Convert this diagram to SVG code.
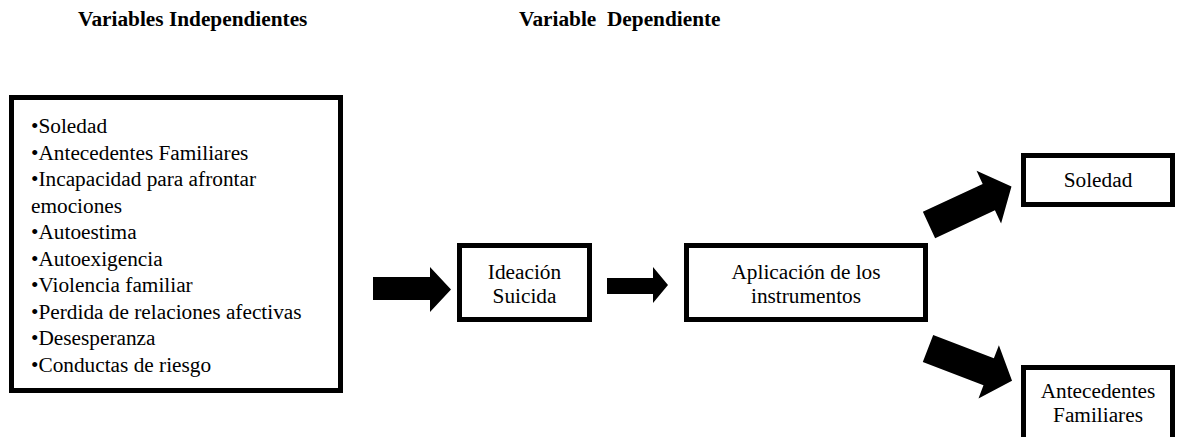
<svg xmlns="http://www.w3.org/2000/svg" width="1178" height="437" viewBox="0 0 1178 437">
<style>
text{font-family:'Liberation Serif',Tinos,'Times New Roman',Times,serif;font-size:21.3px;fill:#000}
.t{font-weight:bold}
.box{fill:#fff;stroke:#000;stroke-width:5}
.arr{fill:#000}
</style>
<rect width="1178" height="437" fill="#fff"/>
<g font-family="Liberation Serif, serif">
<text class="t" x="78" y="26">Variables Independientes</text>
<text class="t" x="519" y="26" xml:space="preserve">Variable  Dependiente</text>
<g id="n-variables">
<rect class="box" x="11.5" y="97.5" width="329" height="293"/>
<text x="31" y="133">•Soledad</text>
<text x="31" y="159.5">•Antecedentes Familiares</text>
<text x="31" y="186">•Incapacidad para afrontar</text>
<text x="31" y="212.5">emociones</text>
<text x="31" y="239">•Autoestima</text>
<text x="31" y="265.5">•Autoexigencia</text>
<text x="31" y="292">•Violencia familiar</text>
<text x="31" y="318.5">•Perdida de relaciones afectivas</text>
<text x="31" y="345">•Desesperanza</text>
<text x="31" y="371.5">•Conductas de riesgo</text>
</g>
<g id="n-ideacion">
<rect class="box" x="459.5" y="245.5" width="130" height="74"/>
<text x="524.5" y="279" text-anchor="middle">Ideación</text>
<text x="524.5" y="303" text-anchor="middle">Suicida</text>
</g>
<g id="n-aplicacion">
<rect class="box" x="686.5" y="245.5" width="239" height="74"/>
<text x="806" y="279" text-anchor="middle">Aplicación de los</text>
<text x="806" y="303" text-anchor="middle">instrumentos</text>
</g>
<g id="n-soledad">
<rect class="box" x="1023.5" y="155.5" width="149" height="49"/>
<text x="1098" y="187" text-anchor="middle">Soledad</text>
</g>
<g id="n-antecedentes">
<rect class="box" x="1023.5" y="367.5" width="149" height="80"/>
<text x="1098" y="398" text-anchor="middle">Antecedentes</text>
<text x="1098" y="422" text-anchor="middle">Familiares</text>
</g>
</g>
<g id="connectors">
<polygon class="arr" points="373,277 430,277 430,267 451,289.5 430,312 430,300 373,300"/>
<polygon class="arr" points="607,278 653,278 653,267 668,285 653,303 653,294 607,294"/>
<polygon class="arr" transform="translate(929,225) rotate(-25)" points="0,-14.5 66,-14.5 66,-29 91,0 66,29 66,14.5 0,14.5"/>
<polygon class="arr" transform="translate(928,348.5) rotate(21)" points="0,-14.5 65,-14.5 65,-28.5 90,0 65,28.5 65,14.5 0,14.5"/>
</g>
</svg>
